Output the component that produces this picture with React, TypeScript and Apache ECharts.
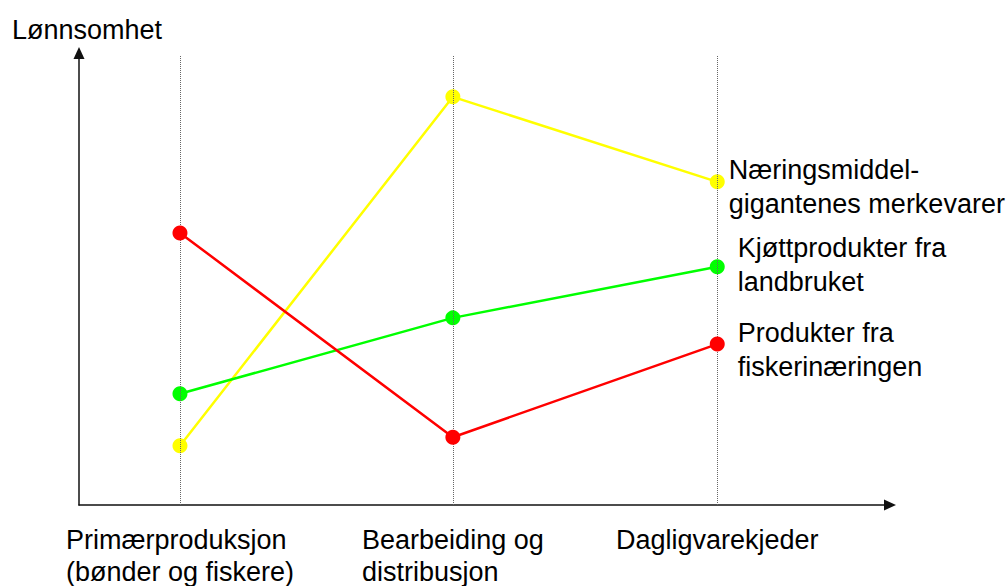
import React, { useEffect, useRef } from "react";
import * as echarts from "echarts";

const categories = ["Primærproduksjon\n(bønder og fiskere)", "Bearbeiding og\ndistribusjon", "Dagligvarekjeder"];
const categoryX = [12.45, 46.1, 78.7];
const seriesNames = ["Næringsmiddel-\ngigantenes merkevarer", "Kjøttprodukter fra\nlandbruket", "Produkter fra\nfiskerinæringen"];
const yellowValues = [13.1, 90.3, 71.5];
const greenValues = [24.6, 41.4, 52.7];
const redValues = [60.2, 15.0, 35.6];
const seriesColors = ["#ffff00", "#00ff00", "#ff0000"];
const yTitle = "Lønnsomhet";
const guideTop = 99.5;

const FONT = "'Liberation Sans', Arial, sans-serif";
const FS = 27;

export default function App() {
  const ref = useRef<HTMLDivElement>(null);
  useEffect(() => {
    if (!ref.current) return;
    const chart = echarts.init(ref.current, null, { renderer: "svg" });
    const allValues = [yellowValues, greenValues, redValues];
    const labelCfg = [
      { distance: 4, offset: [0, 5] },
      { distance: 13, offset: [0, -2] },
      { distance: 13, offset: [0, 6] },
    ];
    const series: any[] = allValues.map((vals, si) => ({
      type: "line",
      name: seriesNames[si],
      symbol: "circle",
      symbolSize: 15,
      z: 3 + si,
      lineStyle: { color: seriesColors[si], width: 2.5 },
      itemStyle: { color: seriesColors[si] },
      data: vals.map((v, i) => {
        const item: any = { value: [categoryX[i], v] };
        if (i === vals.length - 1) {
          item.label = {
            show: true,
            position: "right",
            distance: labelCfg[si].distance,
            offset: labelCfg[si].offset,
            formatter: seriesNames[si],
            color: "#000",
            fontFamily: FONT,
            fontSize: FS,
            lineHeight: 34,
            align: "left",
          };
        }
        return item;
      }),
    }));
    series.push({
      type: "line",
      data: [],
      silent: true,
      markLine: {
        silent: true,
        symbol: "none",
        label: { show: false },
        lineStyle: { color: "#666", type: "dotted", width: 1 },
        data: categoryX.map((x) => [
          { coord: [x, 0] },
          { coord: [x, guideTop] },
        ]),
      },
    });
    chart.setOption({
      animation: false,
      backgroundColor: "#fff",
      title: {
        text: yTitle,
        left: 7,
        top: 11,
        textStyle: { fontFamily: FONT, fontSize: FS, fontWeight: "normal", color: "#000" },
      },
      grid: { left: 79, right: 118, top: 53, bottom: 81 },
      xAxis: {
        type: "value",
        min: 0,
        max: 100,
        splitLine: { show: false },
        axisTick: { show: false },
        axisLine: {
          show: true,
          symbol: ["none", "triangle"],
          symbolSize: [11, 12],
          lineStyle: { color: "#111", width: 1.5 },
        },
        axisLabel: {
          customValues: categoryX,
          margin: 19,
          formatter: (val: number) => {
            const idx = categoryX.findIndex((c) => Math.abs(c - val) < 1e-6);
            if (idx < 0) return "";
            return categories[idx].split("\n").map((l) => `{a|${l}}`).join("\n");
          },
          rich: {
            a: { fontFamily: FONT, fontSize: FS, lineHeight: 32, color: "#000", align: "left" },
          },
        },
      },
      yAxis: {
        type: "value",
        min: 0,
        max: 100,
        splitLine: { show: false },
        axisTick: { show: false },
        axisLabel: { show: false },
        axisLine: {
          show: true,
          onZero: false,
          symbol: ["none", "triangle"],
          symbolSize: [11, 12],
          lineStyle: { color: "#111", width: 1.5 },
        },
      },
      series,
    });
    return () => chart.dispose();
  }, []);
  return <div ref={ref} style={{ width: 1008, height: 586, position: "absolute", left: 0, top: 0 }} />;
}
